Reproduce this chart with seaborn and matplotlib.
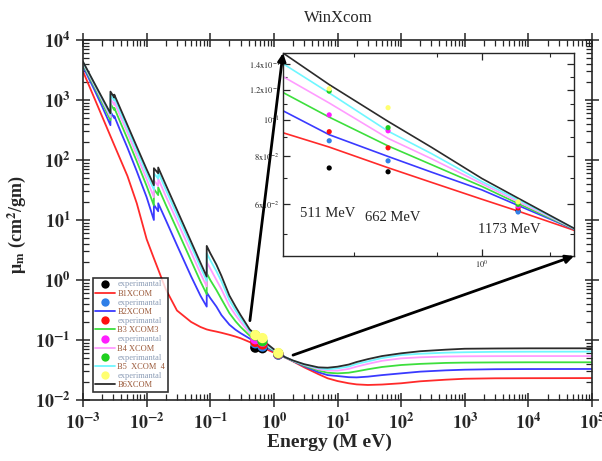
import numpy as np
import pandas as pd
import matplotlib
matplotlib.use("Agg")
import matplotlib.pyplot as plt
from matplotlib.ticker import LogLocator, NullFormatter, FuncFormatter
from matplotlib.lines import Line2D
from matplotlib.patches import ConnectionPatch
import seaborn as sns

# photon energies (MeV); repeated energies mark absorption edges
energy = [0.001, 0.0015, 0.002, 0.0027, 0.0027, 0.0031, 0.0031, 0.004, 0.005, 0.007,
          0.01, 0.013, 0.013, 0.0152, 0.0152, 0.02, 0.03, 0.05, 0.07, 0.088, 0.088,
          0.1, 0.125, 0.15, 0.2, 0.25, 0.3, 0.417, 0.511, 0.662, 0.8, 1.0, 1.173, 1.5, 2, 3, 5, 7,
          10, 15, 20, 30, 50, 100, 200, 500, 1000, 3000, 1e4, 1e5]

# mass attenuation coefficients (cm^2/g) from XCOM
b1_xcom = [3000, 1090, 530, 250, 250, 177, 177, 94, 54, 19,
           4.8, 2.3, 2.3, 1.5, 1.5, 0.7, 0.31, 0.2, 0.165, 0.15, 0.15,
           0.145, 0.138, 0.132, 0.122, 0.114, 0.107, 0.0924, 0.0847, 0.0747, 0.0684, 0.0617, 0.0574, 0.0511, 0.044, 0.035, 0.027, 0.023,
           0.0207, 0.019, 0.0182, 0.0178, 0.0181, 0.019, 0.0205, 0.0218, 0.0226, 0.023, 0.0231, 0.0232]
b2_xcom = [3600, 1500, 780, 380, 640, 500, 540, 280, 160, 65,
           24, 10, 18, 14, 19, 10, 3.8, 1.15, 0.55, 0.36, 0.62,
           0.5, 0.36, 0.26, 0.18, 0.148, 0.13, 0.1056, 0.0913, 0.080, 0.0728, 0.0653, 0.0594, 0.0514, 0.0445, 0.0365, 0.029, 0.026,
           0.0251, 0.024, 0.0238, 0.0245, 0.026, 0.0278, 0.0297, 0.0312, 0.032, 0.0326, 0.0328, 0.0329]
b3_xcom = [3900, 1680, 900, 460, 870, 680, 740, 390, 225, 95,
           37, 17.5, 33, 26, 35, 18, 7, 2.1, 0.95, 0.58, 1.3,
           1.0, 0.68, 0.48, 0.28, 0.205, 0.165, 0.118, 0.1016, 0.0853, 0.0762, 0.0667, 0.0601, 0.0515, 0.0448, 0.0375, 0.031, 0.0285,
           0.0278, 0.0285, 0.03, 0.0325, 0.0355, 0.0383, 0.04, 0.0415, 0.042, 0.0423, 0.0425, 0.0425]
b4_xcom = [4100, 1800, 990, 520, 1050, 830, 920, 490, 285, 120,
           48, 24, 46, 37, 49, 25, 9.7, 2.9, 1.3, 0.78, 2.0,
           1.55, 1.0, 0.7, 0.37, 0.26, 0.2, 0.130, 0.1107, 0.0893, 0.079, 0.0678, 0.0608, 0.0516, 0.045, 0.0385, 0.0325, 0.031,
           0.0308, 0.033, 0.036, 0.040, 0.045, 0.0494, 0.0515, 0.053, 0.0535, 0.0538, 0.054, 0.054]
b5_xcom = [4250, 1880, 1050, 570, 1230, 980, 1090, 580, 335, 145,
           60, 32, 60, 49, 63, 32, 12.3, 3.7, 1.65, 0.97, 2.8,
           2.15, 1.4, 0.95, 0.46, 0.31, 0.23, 0.1406, 0.1177, 0.0933, 0.0815, 0.0687, 0.0615, 0.0517, 0.0452, 0.039, 0.034, 0.0325,
           0.0337, 0.036, 0.040, 0.044, 0.050, 0.0562, 0.059, 0.0615, 0.0625, 0.0635, 0.0638, 0.064]
b6_xcom = [4350, 1930, 1090, 600, 1380, 1100, 1230, 660, 381, 167,
           70, 38, 73, 60, 75, 38.6, 14.7, 4.35, 1.95, 1.14, 3.7,
           2.8, 1.8, 1.17, 0.55, 0.36, 0.26, 0.150, 0.1238, 0.099, 0.0847, 0.070, 0.0621, 0.0517, 0.0455, 0.0395, 0.035, 0.0345,
           0.0359, 0.039, 0.043, 0.048, 0.054, 0.060, 0.065, 0.069, 0.0715, 0.0722, 0.0726, 0.0727]

# measured values at the gamma lines
exp_energy = [0.511, 0.662, 1.173]
b1_exp = [0.0746, 0.0729, 0.0575]
b2_exp = [0.088, 0.0779, 0.0571]
b3_exp = [0.093, 0.0843, 0.0585]
b4_exp = [0.103, 0.0935, 0.0592]
b5_exp = [0.119, 0.0953, 0.0598]
b6_exp = [0.1207, 0.1076, 0.0607]

line_labels = ["B1XCOM", "B2XCOM", "B3 XCOM3", "B4 XCOM", "B5  XCOM  4", "B6XCOM"]
line_colors = ["#ff2a2a", "#3a3aff", "#3ddf3d", "#ff9cff", "#6ff7ff", "#2b2b2b"]
exp_colors = ["#000000", "#2f7fe8", "#ff1010", "#ff1eff", "#1fd01f", "#ffff70"]
exp_label = "experimantal"

curves = [b1_xcom, b2_xcom, b3_xcom, b4_xcom, b5_xcom, b6_xcom]
exps = [b1_exp, b2_exp, b3_exp, b4_exp, b5_exp, b6_exp]

xcom_df = pd.concat([pd.DataFrame({"energy": energy, "mu": c, "sample": lab})
                     for c, lab in zip(curves, line_labels)], ignore_index=True)
exp_df = pd.concat([pd.DataFrame({"energy": exp_energy, "mu": e, "sample": f"S{i}"})
                    for i, e in enumerate(exps)], ignore_index=True)

sns.set_style("ticks")
plt.rcParams["font.family"] = ["Liberation Serif", "DejaVu Serif"]
plt.rcParams["mathtext.fontset"] = "stix"

fig = plt.figure(figsize=(6.02, 4.61), dpi=100)
ax = fig.add_axes([83 / 602, 1 - 400 / 461, 509 / 602, 360 / 461])

sns.lineplot(data=xcom_df, x="energy", y="mu", hue="sample", palette=line_colors,
             sort=False, estimator=None, legend=False, linewidth=1.3, ax=ax)
sns.scatterplot(data=exp_df, x="energy", y="mu", hue="sample", palette=exp_colors,
                s=55, edgecolor="none", legend=False, zorder=5, ax=ax)

ax.set_xscale("log")
ax.set_yscale("log")
ax.set_xlim(1e-3, 1e5)
ax.set_ylim(1e-2, 1e4)
decade_fmt = FuncFormatter(lambda v, p: r"$\mathbf{10^{%d}}$" % int(round(np.log10(v))))
for axis in (ax.xaxis, ax.yaxis):
    axis.set_major_locator(LogLocator(base=10, numticks=20))
    axis.set_major_formatter(decade_fmt)
    axis.set_minor_locator(LogLocator(base=10, subs=np.arange(2, 10), numticks=100))
    axis.set_minor_formatter(NullFormatter())
ax.tick_params(which="major", direction="inout", length=10, width=1.1,
               top=True, right=True, labelsize=13, pad=4)
ax.tick_params(which="minor", direction="in", length=4, width=0.9, top=True, right=True)
for s in ax.spines.values():
    s.set_linewidth(1.2)
ax.set_xlabel("Energy (M eV)", fontsize=14, fontweight="bold")
ax.set_ylabel("μ$_\\mathbf{m}$ (cm$^\\mathbf{2}$/gm)", fontsize=13, fontweight="bold")
ax.xaxis.set_label_coords(0.485, -0.093)
ax.yaxis.set_label_coords(-0.108, 0.486)
fig.text(338 / 602, 1 - 18 / 461, "WinXcom", ha="center", va="center", fontsize=12)

# legend: measured points interleaved with the XCOM curves
handles, labels, colors = [], [], []
for lc, ec, lab in zip(line_colors, exp_colors, line_labels):
    handles.append(Line2D([], [], ls="none", marker="o", ms=6, color=ec, mec="none"))
    labels.append(exp_label)
    colors.append("#8a9bb5")
    handles.append(Line2D([], [], color=lc, lw=1.3))
    labels.append(lab)
    colors.append("#9b5a3a")
leg = ax.legend(handles, labels, loc="upper left", bbox_to_anchor=(0.019, 0.339),
                fontsize=6, frameon=True, fancybox=False, edgecolor="black",
                handlelength=2.4, labelspacing=0.14, borderpad=0.3, borderaxespad=0,
                handletextpad=0.25)
leg.get_frame().set_linewidth(1.2)
for t, c in zip(leg.get_texts(), colors):
    t.set_color(c)

# magnified view around the measured energies
ax_in = fig.add_axes([283 / 602, 1 - 256 / 461, 291 / 602, 203 / 461])
ax_in.set_facecolor("white")
sns.lineplot(data=xcom_df, x="energy", y="mu", hue="sample", palette=line_colors,
             sort=False, estimator=None, legend=False, linewidth=1.2, ax=ax_in)
sns.scatterplot(data=exp_df, x="energy", y="mu", hue="sample", palette=exp_colors,
                s=14, edgecolor="none", legend=False, zorder=5, ax=ax_in)
ax_in.set_xscale("log")
ax_in.set_yscale("log")
ax_in.set_xlim(0.417, 1.5)
ax_in.set_ylim(0.0437, 0.150)
ax_in.set_xlabel("")
ax_in.set_ylabel("")
ax_in.set_xticks([1.0], [r"$\mathrm{10^{0}}$"])
ax_in.set_xticks([0.57, 0.82, 1.35], minor=True)
ax_in.xaxis.set_minor_formatter(NullFormatter())
ax_in.set_yticks([0.06, 0.08, 0.10, 0.12, 0.14],
                 [r"$\mathrm{6x10^{-2}}$", r"$\mathrm{8x10^{-2}}$", r"$\mathrm{10^{-1}}$",
                  r"$\mathrm{1.2x10^{-1}}$", r"$\mathrm{1.4x10^{-1}}$"])
ax_in.set_yticks([0.05, 0.07, 0.09, 0.11, 0.13], minor=True)
ax_in.yaxis.set_minor_formatter(NullFormatter())
ax_in.tick_params(which="major", direction="in", length=5, width=0.9, top=True, right=True,
                  labelsize=6, pad=2)
ax_in.tick_params(which="minor", direction="in", length=3, width=0.8, top=True, right=True)
for s in ax_in.spines.values():
    s.set_linewidth(1.0)

ax_in.text(0.058, 0.19, "511 MeV", transform=ax_in.transAxes, fontsize=10.5)
ax_in.text(0.282, 0.172, "662 MeV", transform=ax_in.transAxes, fontsize=10.5)
ax_in.text(0.67, 0.113, "1173 MeV", transform=ax_in.transAxes, fontsize=10.5)

for xa, xb in (((0.42, 0.21), (0.0, 1.0)), ((2.0, 0.056), (1.0, 0.0))):
    con = ConnectionPatch(xyA=xa, coordsA=ax.transData, xyB=xb, coordsB=ax_in.transAxes,
                          arrowstyle="-|>", mutation_scale=12, lw=2.0, color="black", zorder=10)
    fig.add_artist(con)

fig.savefig("out.png", dpi=100)
